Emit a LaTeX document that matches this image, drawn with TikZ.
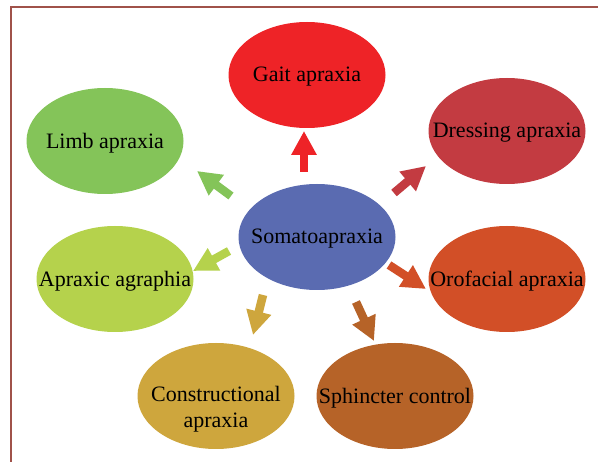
\documentclass[tikz,border=0pt]{standalone}
\usepackage{fontspec}
\setmainfont{Liberation Serif}
\usetikzlibrary{shapes.geometric,arrows.meta}
\definecolor{cgait}{HTML}{EE2327}
\definecolor{climb}{HTML}{84C459}
\definecolor{cdress}{HTML}{C33B41}
\definecolor{csoma}{HTML}{5A6BB1}
\definecolor{cagra}{HTML}{B5D24C}
\definecolor{corof}{HTML}{D24F27}
\definecolor{ccons}{HTML}{CEA63D}
\definecolor{csphi}{HTML}{B66328}
\definecolor{cframe}{HTML}{A0524A}
\tikzset{
  ell/.style={ellipse, draw=none, inner sep=0pt, minimum width=157pt, minimum height=106pt},
  lbl/.style={font=\fontsize{22}{26}\selectfont, text=black, align=center, inner sep=0pt, yshift=-2pt},
  blk/.style={line width=8.5pt, -{Triangle[width=24pt,length=24pt]}}
}
\begin{document}
\begin{tikzpicture}[x=1pt,y=-1pt]
\useasboundingbox (0,0) rectangle (598,462);
\fill[white] (0,0) rectangle (598,462);
\draw[cframe, line width=1.6pt] (11,462) -- (11,7) -- (598,7);

\node[ell, fill=cgait, label={[lbl]center:Gait apraxia}] (gait) at (307,75) {};
\node[ell, fill=climb, label={[lbl]center:Limb apraxia}] (limb) at (105,141) {};
\node[ell, fill=cdress, label={[lbl]center:Dressing apraxia}] (dress) at (507,131) {};
\node[ell, fill=csoma, label={[lbl]center:Somatoapraxia}] (soma) at (317,237) {};
\node[ell, fill=cagra, label={[lbl]center:Apraxic agraphia}] (agra) at (115,279) {};
\node[ell, fill=corof, label={[lbl]center:Orofacial apraxia}] (orof) at (507,279) {};
\node[ell, fill=ccons, label={[lbl, yshift=-11pt]center:Constructional\\apraxia}] (cons) at (216,396) {};
\node[ell, fill=csphi, label={[lbl]center:Sphincter control}] (sphi) at (395,396) {};

\coordinate (t1) at (304,172); \coordinate (h1) at (304,131);
\coordinate (t2) at (231,196); \coordinate (h2) at (197,171);
\coordinate (t3) at (394,193); \coordinate (h3) at (426,166);
\coordinate (t4) at (229,251); \coordinate (h4) at (193,271);
\coordinate (t5) at (389,265); \coordinate (h5) at (426,289);
\coordinate (t6) at (263,295); \coordinate (h6) at (253,335);
\coordinate (t7) at (356,302); \coordinate (h7) at (374,341);

\draw[blk, cgait] (t1) -- (h1);
\draw[blk, climb] (t2) -- (h2);
\draw[blk, cdress] (t3) -- (h3);
\draw[blk, cagra] (t4) -- (h4);
\draw[blk, corof] (t5) -- (h5);
\draw[blk, ccons] (t6) -- (h6);
\draw[blk, csphi] (t7) -- (h7);
\end{tikzpicture}
\end{document}
